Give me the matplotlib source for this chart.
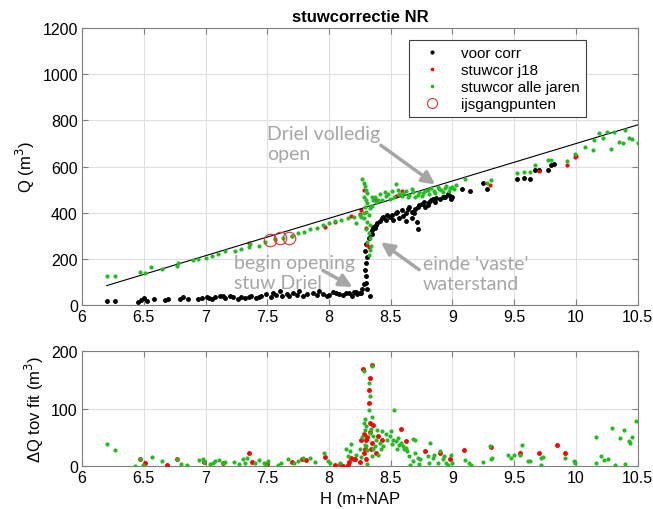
import numpy as np
import matplotlib
matplotlib.use('Agg')
import matplotlib.pyplot as plt

plt.rcParams.update({
    'font.family': ['Liberation Sans', 'DejaVu Sans'],
    'font.size': 11,
})

# fit line (polynomial coefficients, Q = a*H + b)
fit_coef = [162.0, -920.4]
fit_range = [6.2, 10.5]

# voor corr (black)
H_voor = [6.2, 6.27, 6.45, 6.48, 6.5, 6.53, 6.58, 6.67, 6.7, 6.79, 6.82, 6.86, 6.94, 6.97,
          7.01, 7.05, 7.08, 7.12, 7.16, 7.2, 7.26, 7.29, 7.32, 7.37, 7.41, 7.45, 7.49, 7.53,
          7.57, 7.6, 7.55, 7.66, 7.71, 7.76, 7.82, 7.87, 7.92, 7.98, 8.03, 8.08, 8.14, 8.19,
          7.03, 7.14, 7.22, 7.35, 7.43, 7.62, 7.68, 7.74, 7.79, 7.9, 7.95, 8.0, 8.06, 8.11,
          8.16, 8.2, 8.23,
          8.22, 8.25, 8.26, 8.27, 8.28, 8.3, 8.3, 8.29, 8.3, 8.31, 8.29, 8.3, 8.32, 8.33, 8.33,
          8.31, 8.35, 8.35, 8.37, 8.38, 8.41, 8.43, 8.46, 8.49, 8.51, 8.54, 8.57, 8.59, 8.62,
          8.62, 8.65, 8.67, 8.67, 8.7, 8.73, 8.75, 8.78, 8.81, 8.84, 8.86, 8.9, 8.94, 8.98,
          8.99, 8.36, 8.39, 8.44, 8.47, 8.52, 8.55, 8.6, 8.64, 8.69, 8.72, 8.77, 8.8, 8.83,
          8.87, 8.92, 8.96, 9.0, 8.72, 8.71,
          9.08, 9.14, 9.25, 9.28, 9.52, 9.58, 9.63, 9.67, 9.7, 9.77, 9.8, 9.82]
Q_voor = [19, 16, 12, 22, 32, 17, 27, 22, 27, 24, 35, 27, 24, 30,
          35, 27, 35, 40, 32, 40, 27, 36, 32, 40, 30, 40, 47, 36,
          42, 61, 54, 47, 54, 61, 47, 54, 61, 40, 57, 47, 54, 40,
          30, 38, 33, 35, 33, 38, 40, 45, 38, 42, 48, 45, 50, 45,
          50, 55, 48,
          55, 50, 54, 68, 89, 96, 124, 152, 180, 208, 236, 264, 292, 313, 40,
          68, 306, 327, 334, 348, 362, 376, 369, 383, 390, 397, 376, 411, 397,
          362, 425, 404, 376, 418, 432, 439, 425, 446, 460, 446, 460, 467, 474,
          460, 340, 355, 380, 392, 370, 405, 385, 415, 400, 425, 445, 435, 455,
          465, 470, 480, 470, 330, 360,
          503, 492, 530, 504, 545, 550, 545, 585, 585, 585, 605, 610]

# stuwcor j18 (red)
H_j18 = [7.35, 7.7, 7.97, 8.05, 8.18, 8.25, 8.28, 8.26, 8.3, 8.31, 8.32, 8.37, 8.54,
         8.59, 9.3, 9.7, 9.93, 9.99, 10.0]
Q_j18 = [268, 300, 340, 360, 385, 395, 499, 411, 334, 260, 250, 460, 474,
         495, 520, 580, 605, 640, 645]

# stuwcor alle jaren (green)
H_all = [6.2, 6.27, 6.47, 6.51, 6.56, 6.65, 6.77, 6.78, 6.9, 6.94, 7.0, 7.05, 7.1, 7.16,
         7.24, 7.29, 7.35, 7.36, 7.43, 7.48, 7.56, 7.63, 7.7, 7.75, 7.8, 7.85, 7.9, 7.95,
         8.0, 8.05, 8.1, 8.15, 8.2, 8.22, 8.25,
         8.27, 8.28, 8.29, 8.3, 8.31, 8.28, 8.3, 8.31, 8.29, 8.3, 8.32, 8.28, 8.31, 8.33,
         8.3, 8.32, 8.33, 8.31, 8.34, 8.32, 8.33, 8.26, 8.28, 8.33, 8.35, 8.36,
         8.35, 8.37, 8.38, 8.41, 8.43, 8.46, 8.49, 8.51, 8.54, 8.57, 8.59, 8.62, 8.65, 8.67,
         8.7, 8.73, 8.75, 8.78, 8.81, 8.83, 8.86, 8.89, 8.92, 8.94, 8.97, 8.98, 9.01, 9.03,
         8.4, 8.45, 8.48, 8.53, 8.56, 8.6, 8.64, 8.68, 8.72, 8.76, 8.8, 8.85, 8.88, 8.91,
         8.95, 9.0,
         9.1, 9.31, 9.28, 9.52, 9.58, 9.63, 9.67, 9.77, 9.8, 9.93, 9.99, 10.07, 10.14, 10.15,
         10.19, 10.22, 10.25, 10.28, 10.31, 10.35, 10.38, 10.4, 10.43, 10.45, 10.5]
Q_all = [124, 124, 144, 138, 163, 156, 170, 182, 195, 199, 202, 211, 221, 236,
         236, 243, 250, 265, 257, 275, 284, 292, 300, 310, 318, 330, 335, 345,
         356, 362, 370, 375, 380, 355, 390,
         548, 530, 515, 500, 485, 470, 455, 440, 425, 405, 390, 375, 360, 345,
         330, 310, 290, 275, 255, 215, 240, 380, 400, 420, 430, 455,
         467, 470, 446, 481, 453, 474, 460, 495, 523, 481, 474, 495, 477, 502,
         467, 488, 474, 495, 481, 509, 485, 502, 491, 509, 495, 505, 502, 520,
         455, 490, 480, 470, 500, 485, 470, 490, 478, 485, 500, 495, 510, 498,
         515, 510,
         545, 543, 528, 570, 575, 575, 605, 627, 630, 625, 655, 685, 670, 713,
         746, 722, 748, 675, 750, 706, 700, 758, 725, 720, 703]

# ijsgangpunten
H_ijs = [7.52, 7.6, 7.68]
Q_ijs = [283, 290, 292]

# dQ tov fit, lower panel
dH_all = [6.2, 6.27, 6.43, 6.47, 6.49, 6.57, 6.65, 6.77, 6.8, 6.85, 6.95, 6.98, 6.99, 7.04,
          7.06, 7.08, 7.11, 7.14, 7.16, 7.23, 7.27, 7.3, 7.32, 7.34, 7.4, 7.43, 7.47, 7.49,
          7.51, 7.59, 7.61, 7.67, 7.72, 7.75, 7.79, 7.85, 7.89, 7.96, 7.99, 8.01, 8.09, 8.14,
          8.15, 8.18, 8.17, 8.22, 8.25, 8.28, 8.29, 8.29, 8.29, 8.3, 8.31, 8.32, 8.32, 8.33,
          8.33, 8.35, 8.35, 8.35, 8.36, 8.37, 8.38, 8.39, 8.41, 8.42, 8.43, 8.28, 8.47, 8.49,
          8.5, 8.52, 8.53, 8.54, 8.56, 8.57, 8.58, 8.6, 8.61, 8.63, 8.65, 8.66, 8.68, 8.68,
          8.7, 8.7, 8.72, 8.73, 8.74, 8.8, 8.81, 8.82, 8.84, 8.85, 8.88, 8.9, 8.92, 8.93,
          8.95, 8.96, 8.99, 9.0, 9.1, 9.13, 9.15, 9.25, 9.3, 9.31, 9.32, 9.45, 9.47, 9.5,
          9.55, 9.56, 9.61, 9.63, 9.72, 9.72, 9.73, 9.91, 9.98, 9.99, 10.16, 10.16, 10.2, 10.23,
          10.26, 10.29, 10.32, 10.36, 10.39, 10.4, 10.43, 10.44, 10.45, 10.49,
          8.26, 8.27, 8.3, 8.31, 8.34, 8.36, 8.4, 8.44, 8.46, 8.51, 8.55, 8.62]
dQ_all = [39, 28, 0, 13, 1, 16, 9, 13, 3, 1, 10, 13, 7, 3,
          6, 9, 10, 5, 7, 7, 3, 12, 5, 14, 5, 10, 6, 1,
          8, 1, 6, 12, 5, 9, 14, 14, 7, 22, 9, 6, 5, 29,
          18, 39, 26, 20, 29, 75, 37, 63, 81, 35, 3, 98, 144, 121,
          58, 17, 174, 86, 52, 35, 46, 63, 40, 29, 61, 166, 46, 52,
          61, 46, 97, 43, 49, 36, 40, 35, 29, 26, 17, 1, 9, 47,
          45, 23, 14, 3, 12, 17, 6, 40, 14, 20, 6, 26, 12, 18,
          6, 1, 20, 6, 10, 6, 1, 7, 35, 12, 14, 20, 14, 20,
          20, 36, 9, 9, 14, 1, 16, 14, 9, 6, 51, 6, 18, 10,
          13, 66, 1, 49, 62, 3, 43, 40, 51, 78,
          15, 50, 70, 28, 65, 30, 20, 35, 55, 38, 30, 32]
dH_j18 = [6.47, 6.51, 6.69, 6.77, 6.99, 7.14, 7.35, 7.38, 7.5, 7.7, 7.78, 7.81, 7.97, 8.05,
          8.11, 8.16, 8.2, 8.09, 8.15, 8.18, 8.21, 8.25, 8.26, 8.28, 8.28, 8.275, 8.3, 8.3,
          8.32, 8.32, 8.33, 8.33, 8.34, 8.35, 8.35, 8.36, 8.38, 8.4, 8.43, 8.58, 8.62, 8.78,
          8.9, 8.98, 9.09, 9.31, 9.55, 9.7, 9.85, 9.91, 8.33, 8.31, 8.29]
dQ_j18 = [13, 5, 2, 13, 7, 5, 22, 7, 4, 7, 12, 10, 16, 2,
          0, 7, 12, 3, 1, 14, 12, 7, 46, 55, 23, 168, 46, 12,
          110, 133, 153, 75, 29, 176, 40, 72, 23, 52, 46, 65, 43, 26,
          23, 12, 28, 33, 22, 23, 37, 23, 60, 50, 30]

GRAY = '#a6a6a6'
SPINE = '#808080'
TICKS = np.arange(6, 10.51, 0.5)
TICKLABELS = ['6', '6.5', '7', '7.5', '8', '8.5', '9', '9.5', '10', '10.5']

fig = plt.figure(figsize=(6.53, 5.1), dpi=100)
ax1 = fig.add_axes([0.1256, 0.400, 0.851, 0.543])
ax2 = fig.add_axes([0.1256, 0.0843, 0.851, 0.2255])

ax1.plot(H_voor, Q_voor, '.', color='k', ms=5, label='voor corr', zorder=3)
ax1.plot(H_j18, Q_j18, '.', color='#ff0000', ms=4, label='stuwcor j18', zorder=4)
ax1.plot(H_all, Q_all, '.', color='#22bb22', ms=4, label='stuwcor alle jaren', zorder=5)
ax1.plot(H_ijs, Q_ijs, 'o', mfc='none', mec='#dd3333', ms=9, mew=0.8,
         label='ijsgangpunten', zorder=6)
hx = np.array(fit_range)
ax1.plot(hx, np.polyval(fit_coef, hx), '-', color='k', lw=0.8, zorder=4)

ax1.set_xlim(6, 10.5)
ax1.set_ylim(0, 1200)
ax1.set_yticks(range(0, 1201, 200))
ax1.set_xticks(TICKS)
ax1.set_xticklabels(TICKLABELS)
ax1.set_ylabel('Q (m$^3$)', fontsize=12)
ax1.set_title('stuwcorrectie NR', fontweight='bold', fontsize=12, pad=5)

leg = ax1.legend(loc='upper right', bbox_to_anchor=(0.92, 0.985), fancybox=False,
                 edgecolor='#404040', framealpha=1, labelspacing=0.2, handletextpad=0.8,
                 borderpad=0.4, markerscale=0.8, handlelength=2.2)
leg.get_frame().set_linewidth(0.8)

ann = dict(color=GRAY, fontsize=14, family=['Lato', 'DejaVu Sans'])
arr = dict(arrowstyle='-|>,head_width=0.35,head_length=0.7', color=GRAY, lw=2.5,
           shrinkA=0, shrinkB=0)
ax1.text(7.5, 700, 'Driel volledig\nopen', va='center', ha='left', linespacing=1.2, **ann)
ax1.annotate('', xy=(8.86, 522), xytext=(8.42, 692), arrowprops=arr)
ax1.text(7.23, 140, 'begin opening\nstuw Driel', va='center', ha='left', linespacing=1.2, **ann)
ax1.annotate('', xy=(8.19, 78), xytext=(7.95, 150), arrowprops=arr)
ax1.text(8.76, 136, "einde 'vaste'\nwaterstand", va='center', ha='left', linespacing=1.2, **ann)
ax1.annotate('', xy=(8.42, 272), xytext=(8.73, 153), arrowprops=arr)

ax2.plot(dH_j18, dQ_j18, '.', color='#ff0000', ms=5, zorder=3)
ax2.plot(dH_all, dQ_all, '.', color='#22bb22', ms=4, zorder=4)
ax2.set_xlim(6, 10.5)
ax2.set_ylim(0, 200)
ax2.set_yticks([0, 100, 200])
ax2.set_xticks(TICKS)
ax2.set_xticklabels(TICKLABELS)
ax2.set_ylabel('\u0394Q tov fit (m$^3$)', fontsize=12)
ax2.set_xlabel('H (m+NAP', fontsize=12)

for ax in (ax1, ax2):
    ax.grid(True, color='#e0e0e0', lw=0.8)
    ax.set_axisbelow(True)
    ax.tick_params(direction='in', top=True, right=True, length=4, color=SPINE,
                   labelsize=11.5, pad=3)
    for s in ax.spines.values():
        s.set_color(SPINE)
        s.set_linewidth(0.8)

fig.savefig('out.png', dpi=100)
